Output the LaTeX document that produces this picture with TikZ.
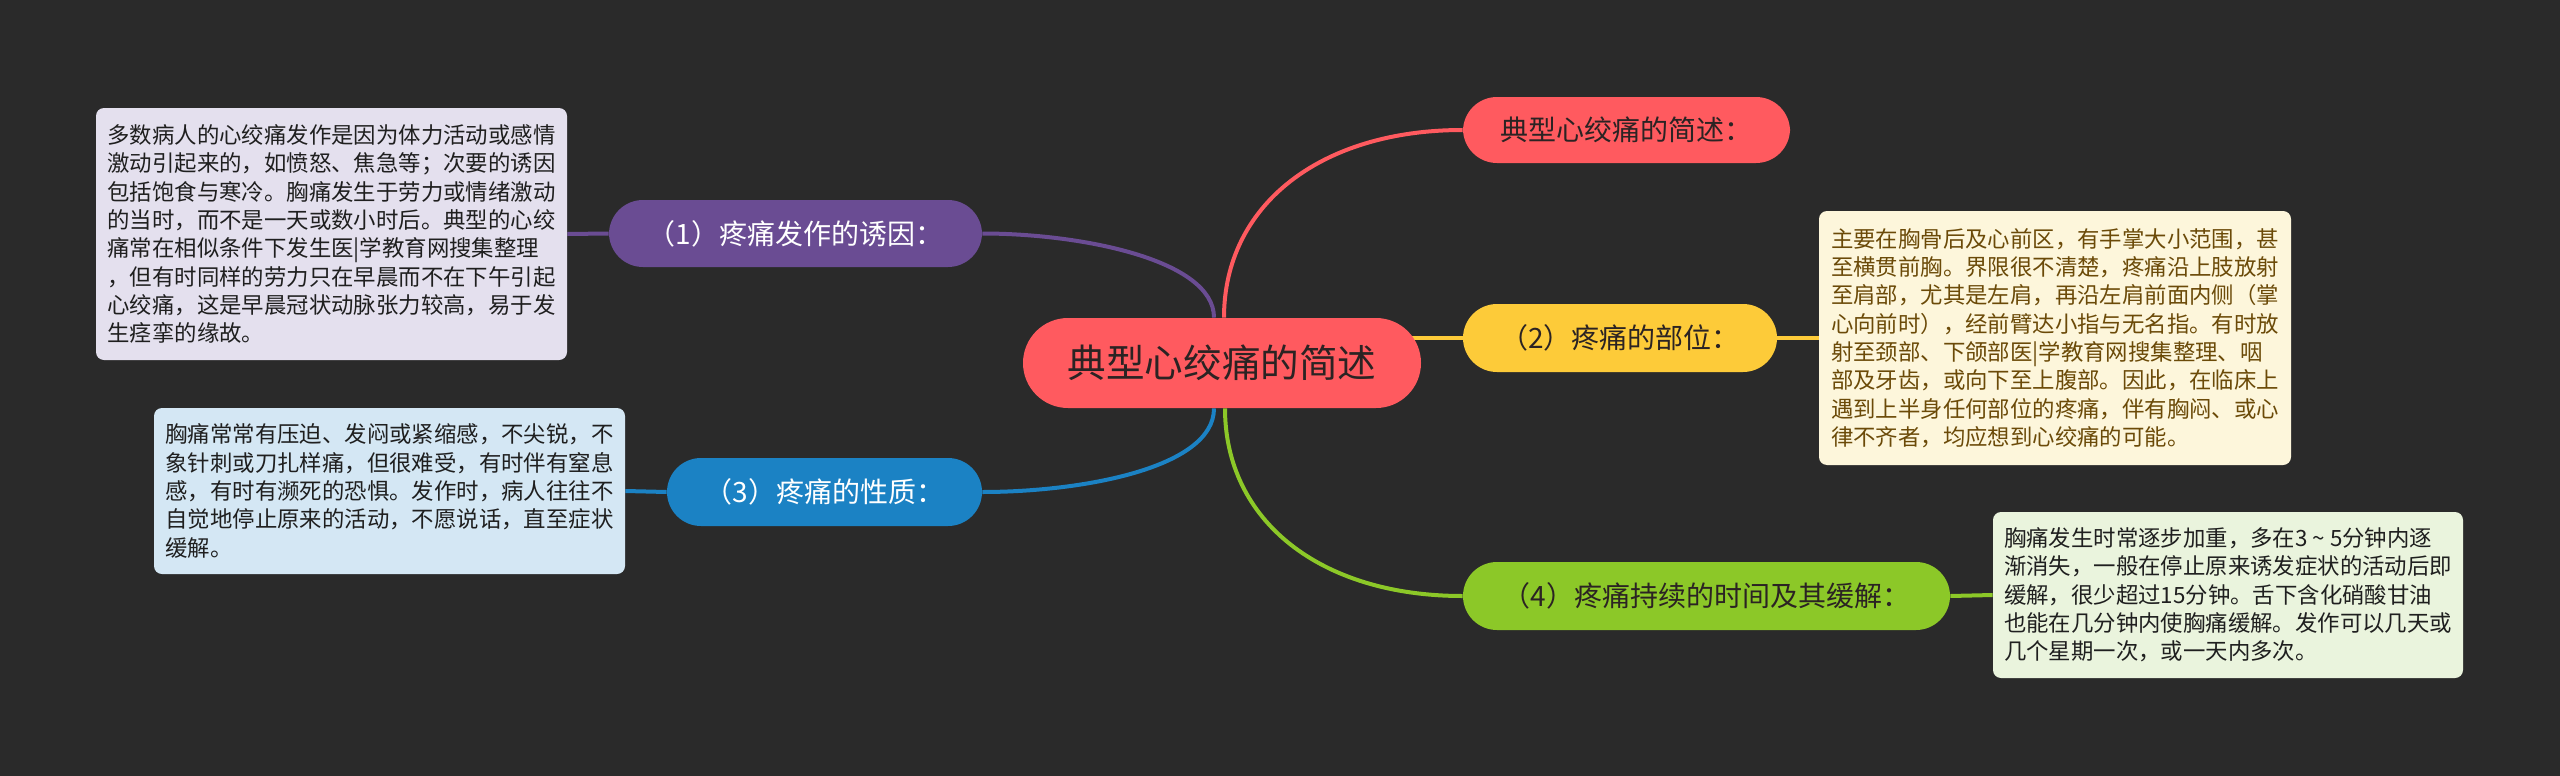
\documentclass[tikz,border=0pt]{standalone}
\usepackage{fontspec}
\newfontfamily\cjk{Noto Sans CJK SC}
\definecolor{bgc}{HTML}{2A2A2A}
\definecolor{cred}{HTML}{FF5A5F}
\definecolor{cpur}{HTML}{6A4C93}
\definecolor{cyel}{HTML}{FDCB39}
\definecolor{cblu}{HTML}{1B82C4}
\definecolor{cgrn}{HTML}{8CC828}
\definecolor{tdark}{HTML}{2B2323}
\definecolor{fpur}{HTML}{E4E0EE}
\definecolor{fyel}{HTML}{FDF6DB}
\definecolor{fblu}{HTML}{D4E7F4}
\definecolor{fgrn}{HTML}{EAF4DD}
\definecolor{tbrown}{HTML}{6B4A08}
\pgfdeclarelayer{edges}
\pgfsetlayers{edges,main}
\begin{document}
\begin{tikzpicture}[x=0.5pt,y=-0.5pt,
  topic/.style={inner sep=0pt, rounded corners=17pt, minimum height=34pt,
    font=\cjk\fontsize{14pt}{17pt}\selectfont},
  center/.style={inner sep=0pt, rounded corners=22.5pt, fill=cred, text=tdark,
    minimum width=199pt, minimum height=45pt,
    font=\cjk\fontsize{19.3pt}{23pt}\selectfont},
  detail/.style={inner sep=0pt, rounded corners=4pt, align=left, minimum width=235.5pt,
    font=\cjk\fontsize{11.2pt}{14.15pt}\selectfont},
  ln/.style={line width=2pt}
]
% nodes
\node[center] (ctr) at (1222,363) {典型心绞痛的简述};
\node[topic, fill=cred, text=tdark, minimum width=163.5pt, minimum height=33pt] (t0) at (1626.5,130) {典型心绞痛的简述：};
\node[topic, fill=cpur, text=white, minimum width=186.5pt, minimum height=33.5pt] (b1) at (795.5,233.5) {（1）疼痛发作的诱因：};
\node[topic, fill=cyel, text=tdark, minimum width=157pt] (b2) at (1620,338) {（2）疼痛的部位：};
\node[topic, fill=cblu, text=white, minimum width=157.5pt] (b3) at (824.5,492) {（3）疼痛的性质：};
\node[topic, fill=cgrn, text=tdark, minimum width=243.5pt] (b4) at (1706.5,596) {（4）疼痛持续的时间及其缓解：};

\node[detail, fill=fpur, text=black!88, minimum height=126pt] (d1) at (331.5,234) {%
多数病人的心绞痛发作是因为体力活动或感情\\
激动引起来的，如愤怒、焦急等；次要的诱因\\
包括饱食与寒冷。胸痛发生于劳力或情绪激动\\
的当时，而不是一天或数小时后。典型的心绞\\
痛常在相似条件下发生医|学教育网搜集整理\\
，但有时同样的劳力只在早晨而不在下午引起\\
心绞痛，这是早晨冠状动脉张力较高，易于发\\
生痉挛的缘故。};
\node[detail, fill=fblu, text=black!88, minimum height=83pt] (d3) at (389.5,491) {%
胸痛常常有压迫、发闷或紧缩感，不尖锐，不\\
象针刺或刀扎样痛，但很难受，有时伴有窒息\\
感，有时有濒死的恐惧。发作时，病人往往不\\
自觉地停止原来的活动，不愿说话，直至症状\\
缓解。};
\node[detail, fill=fyel, text=tbrown, minimum width=236pt, minimum height=127pt] (d2) at (2055,338) {%
主要在胸骨后及心前区，有手掌大小范围，甚\\
至横贯前胸。界限很不清楚，疼痛沿上肢放射\\
至肩部，尤其是左肩，再沿左肩前面内侧（掌\\
心向前时），经前臂达小指与无名指。有时放\\
射至颈部、下颌部医|学教育网搜集整理、咽\\
部及牙齿，或向下至上腹部。因此，在临床上\\
遇到上半身任何部位的疼痛，伴有胸闷、或心\\
律不齐者，均应想到心绞痛的可能。};
\node[detail, fill=fgrn, text=black!88, minimum width=235pt, minimum height=83pt] (d4) at (2228,595) {%
胸痛发生时常逐步加重，多在3 \symbol{126} 5分钟内逐\\
渐消失，一般在停止原来诱发症状的活动后即\\
缓解，很少超过15分钟。舌下含化硝酸甘油\\
也能在几分钟内使胸痛缓解。发作可以几天或\\
几个星期一次，或一天内多次。};

\begin{pgfonlayer}{edges}
\fill[bgc] (0,0) rectangle (2560,776);
\draw[ln, cred] ([xshift=1pt]ctr.north) .. controls +(0,-112) and +(-143,0) .. (t0.west);
\draw[ln, cpur] ([xshift=-4pt]ctr.north) .. controls +(0,-58) and +(98,0) .. (b1.east);
\draw[ln, cblu] ([xshift=-4pt]ctr.south) .. controls +(0,60) and +(98,0) .. (b3.east);
\draw[ln, cgrn] ([xshift=1.5pt]ctr.south) .. controls +(0,112) and +(-143,0) .. (b4.west);
\draw[ln, cyel] (ctr.center |- b2.west) -- (b2.west);
\draw[ln, cpur] (b1.west) -- (d1.east);
\draw[ln, cblu] (b3.west) -- (d3.east);
\draw[ln, cyel] (b2.east) -- (d2.west);
\draw[ln, cgrn] (b4.east) -- (d4.west);
\end{pgfonlayer}
\end{tikzpicture}
\end{document}
